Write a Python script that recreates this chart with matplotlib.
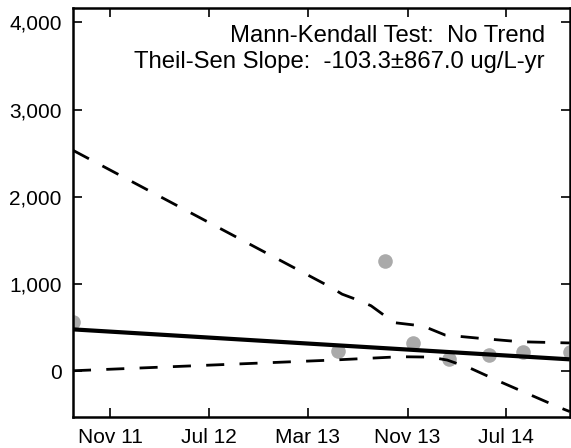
"""
Concentration trend plot: samples, Theil-Sen line and confidence bands.
"""
import numpy as np
import matplotlib
matplotlib.use("Agg")
import matplotlib.pyplot as plt
import matplotlib.dates as mdates
from matplotlib.ticker import FuncFormatter

plt.rcParams.update({
    "font.family": ["Liberation Sans", "DejaVu Sans"],
    "font.size": 15,
})

# sampled concentrations (ug/L)
sample_dates = ["2011-08-02", "2013-05-13", "2013-09-07", "2013-11-14",
                "2014-02-10", "2014-05-20", "2014-08-12", "2014-12-04"]
sample_values = [565, 233, 1264, 325, 138, 180, 214, 218]

# Theil-Sen trend line end points
trend_dates = ["2011-08-02", "2014-12-04"]
trend_values = [478, 134]

# upper confidence band
upper_dates = ["2011-08-02", "2013-04-24", "2013-05-24", "2013-07-02",
               "2013-08-03", "2013-09-07", "2013-10-01", "2013-11-19",
               "2013-12-21", "2014-02-01", "2014-04-28", "2014-08-04",
               "2014-12-04"]
upper_values = [2533, 967, 882, 814, 749, 630, 554, 527, 493, 413, 375, 336, 322]

# lower confidence band
lower_dates = ["2011-08-02", "2013-05-02", "2013-10-13", "2013-12-26",
               "2014-02-06", "2014-04-03", "2014-06-16", "2014-11-10",
               "2014-12-04"]
lower_values = [3, 126, 164, 160, 126, 34, -123, -421, -465]

tick_dates = ["2011-11-01", "2012-07-01", "2013-03-01", "2013-11-01", "2014-07-01"]
ytick_values = [0, 1000, 2000, 3000, 4000]


def to_dt(lst):
    return np.array(lst, dtype="datetime64[D]")


fig = plt.figure(figsize=(5.71, 4.48), dpi=100)
ax = fig.add_axes([0.1278, 0.0703, 0.870, 0.912])

ax.plot(to_dt(upper_dates), upper_values, color="k", lw=2,
        linestyle=(0, (6.5, 5.5)))
ax.plot(to_dt(lower_dates), lower_values, color="k", lw=2,
        linestyle=(0, (6.5, 5.5)))
ax.plot(to_dt(trend_dates), trend_values, color="k", lw=3,
        solid_capstyle="butt")
ax.plot(to_dt(sample_dates), sample_values, "o", color="#aaaaaa",
        markersize=10.5, markeredgewidth=0, zorder=1)

ax.set_xlim(to_dt(sample_dates)[0], to_dt(sample_dates)[-1])
ax.set_ylim(-522, 4167)

ax.set_xticks(to_dt(tick_dates))
ax.xaxis.set_major_formatter(mdates.DateFormatter("%b %y"))
ax.set_yticks(ytick_values)
ax.yaxis.set_major_formatter(FuncFormatter(lambda v, p: f"{v:,.0f}"))

ax.tick_params(direction="in", length=6.5, width=1.2, pad=8,
               top=True, right=True, labelsize=15)
for s in ax.spines.values():
    s.set_linewidth(1.8)

ax.text(0.9497, 0.9168, "Mann-Kendall Test:  No Trend", transform=ax.transAxes,
        ha="right", va="baseline", fontsize=17.2)
ax.text(0.9497, 0.853, "Theil-Sen Slope:  -103.3\u00b1867.0 ug/L-yr",
        transform=ax.transAxes, ha="right", va="baseline", fontsize=17.2)

fig.savefig("out.png", dpi=100)
